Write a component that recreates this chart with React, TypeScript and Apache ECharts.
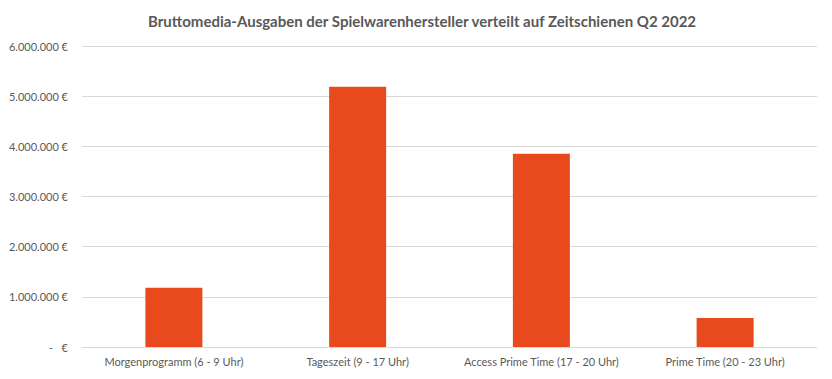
import React, { useEffect, useRef } from "react";
import * as echarts from "echarts";

const categories = [
  "Morgenprogramm (6 - 9 Uhr)",
  "Tageszeit (9 - 17 Uhr)",
  "Access Prime Time (17 - 20 Uhr)",
  "Prime Time (20 - 23 Uhr)",
];
const spending = [1180000, 5190000, 3850000, 580000];
const titleText = "Bruttomedia-Ausgaben der Spielwarenhersteller verteilt auf Zeitschienen Q2 2022";

const fmt = (v: number) => {
  if (v === 0) return "-   €";
  const s = String(Math.round(v));
  return s.replace(/\B(?=(\d{3})+(?!\d))/g, ".") + " €";
};

export default function App() {
  const ref = useRef<HTMLDivElement>(null);
  useEffect(() => {
    if (!ref.current) return;
    const chart = echarts.init(ref.current, undefined, { renderer: "svg" });
    chart.setOption({
      animation: false,
      backgroundColor: "#ffffff",
      textStyle: { fontFamily: "Lato" },
      title: {
        text: titleText,
        left: 417,
        textAlign: "center",
        top: 8,
        textStyle: { fontFamily: "Lato", fontSize: 15, fontWeight: "bold", color: "#595959" },
      },
      grid: { left: 82, right: 15, top: 46, bottom: 32, containLabel: false },
      xAxis: {
        type: "category",
        data: categories,
        axisLine: { show: true, lineStyle: { color: "#d9d9d9" } },
        axisTick: { show: false },
        axisLabel: { color: "#595959", fontSize: 11, fontFamily: "Lato", margin: 9, interval: 0 },
      },
      yAxis: {
        type: "value",
        min: 0,
        max: 6000000,
        interval: 1000000,
        axisLine: { show: false },
        axisTick: { show: false },
        splitLine: { lineStyle: { color: "#d9d9d9" } },
        axisLabel: { color: "#595959", fontSize: 11, fontFamily: "Lato", margin: 14, formatter: fmt },
      },
      series: [
        {
          type: "bar",
          data: spending,
          barWidth: 57,
          itemStyle: { color: "#E8491D" },
        },
      ],
    });
    return () => chart.dispose();
  }, []);
  return (
    <div
      ref={ref}
      style={{ position: "fixed", left: 0, top: 0, width: 832, height: 379 }}
    />
  );
}
